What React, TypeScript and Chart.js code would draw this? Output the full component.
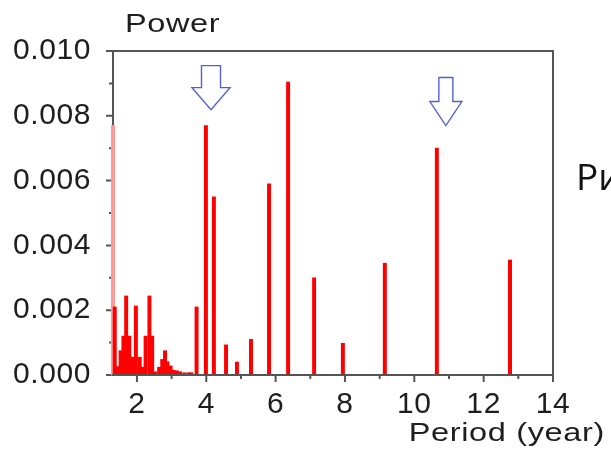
import { useEffect, useRef } from 'react';
import { Chart, registerables } from 'chart.js';

Chart.register(...registerables);

// Periods (years) of each spectral line and their power
const periods = [
  1.31, 1.36, 1.44, 1.53, 1.61, 1.69, 1.78, 1.86, 1.97, 2.08,
  2.16, 2.25, 2.36, 2.44, 2.52, 2.64, 2.73, 2.81, 2.88, 2.97,
  3.05, 3.15, 3.25, 3.37, 3.49, 3.57, 3.72, 3.99, 4.22, 4.57,
  4.885, 5.29, 5.81, 6.36, 7.11, 7.94, 9.15, 10.65, 12.76,
];
const powers = [
  0.0077, 0.0021, 0.00026, 0.00075, 0.0012, 0.00244, 0.0012, 0.00055, 0.00213, 0.00055,
  0.00024, 0.0012, 0.00244, 0.0012, 0.0001, 0.00024, 0.00048, 0.00075, 0.00041, 0.00028,
  0.00015, 0.00013, 0.0001, 0.00007, 0.00007, 0.00007, 0.0021, 0.0077, 0.0055, 0.00093,
  0.0004, 0.0011, 0.0059, 0.00904, 0.003, 0.00098, 0.00345, 0.007, 0.00355,
];

const xTicks = [2, 4, 6, 8, 10, 12, 14];
const xMinor = [3, 5, 7, 9, 11, 13];
const yTicks = [0, 0.002, 0.004, 0.006, 0.008, 0.01];
const yMinor = [0.001, 0.003, 0.005, 0.007, 0.009];
const yTickLabels = ['0.000', '0.002', '0.004', '0.006', '0.008', '0.010'];

// Down-arrow annotations (data coordinates)
const arrowX = [4.136, 10.91];
const arrowTop = [0.00955, 0.00918];
const arrowNeck = [0.00887, 0.00844];
const arrowTip = [0.00819, 0.0077];
const arrowHalfPx = [19, 16];
const arrowShaftHalfPx = [9.5, 7];

const yTitle = 'Power';
const xTitle = 'Period (year)';
const sideText = 'Рис';

const AXIS = '#555555';
const TEXT = '#1e1e1e';
const FONT = '"Liberation Sans", Arial, sans-serif';

function wideText(ctx: any, text: string, x: number, y: number, size: number, sx: number, align: 'left' | 'right') {
  ctx.save();
  ctx.font = `${size}px ${FONT}`;
  ctx.letterSpacing = '0.5px';
  ctx.textAlign = 'left';
  ctx.textBaseline = 'alphabetic';
  const w = ctx.measureText(text).width * sx;
  const left = align === 'left' ? x : x - w;
  ctx.translate(left, y);
  ctx.scale(sx, 1);
  ctx.fillText(text, 0, 0);
  ctx.restore();
}

const decor = {
  id: 'decor',
  beforeDraw(chart: any) {
    chart.ctx.letterSpacing = '0.6px';
  },
  beforeDatasetsDraw(chart: any) {
    const { ctx, chartArea: a, scales } = chart;
    const ys = scales.y;
    ctx.save();
    ctx.strokeStyle = AXIS;
    ctx.lineWidth = 2;
    ctx.beginPath();
    ctx.moveTo(a.left, a.bottom);
    ctx.lineTo(a.left, a.top);
    ctx.lineTo(a.right, a.top);
    ctx.lineTo(a.right, a.bottom);
    for (const v of yTicks) {
      const y = ys.getPixelForValue(v);
      ctx.moveTo(a.left - 7, y);
      ctx.lineTo(a.left, y);
    }
    for (const v of yMinor) {
      const y = ys.getPixelForValue(v);
      ctx.moveTo(a.left - 4, y);
      ctx.lineTo(a.left, y);
    }
    ctx.stroke();
    ctx.restore();
  },
  afterDatasetsDraw(chart: any) {
    const { ctx, chartArea: a, scales } = chart;
    const xs = scales.x;
    const ys = scales.y;
    ctx.save();
    ctx.strokeStyle = AXIS;
    ctx.lineWidth = 2;
    ctx.beginPath();
    ctx.moveTo(a.left - 1, a.bottom);
    ctx.lineTo(a.right + 1, a.bottom);
    for (const v of xTicks) {
      const x = xs.getPixelForValue(v);
      ctx.moveTo(x, a.bottom);
      ctx.lineTo(x, a.bottom + 7);
    }
    for (const v of xMinor) {
      const x = xs.getPixelForValue(v);
      ctx.moveTo(x, a.bottom);
      ctx.lineTo(x, a.bottom + 4);
    }
    ctx.stroke();

    // arrows
    ctx.strokeStyle = '#5260d4';
    ctx.fillStyle = '#ffffff';
    ctx.lineWidth = 1.4;
    ctx.lineJoin = 'miter';
    for (let i = 0; i < arrowX.length; i++) {
      const cx = xs.getPixelForValue(arrowX[i]);
      const top = ys.getPixelForValue(arrowTop[i]);
      const neck = ys.getPixelForValue(arrowNeck[i]);
      const tip = ys.getPixelForValue(arrowTip[i]);
      const h = arrowHalfPx[i];
      const s = arrowShaftHalfPx[i];
      ctx.beginPath();
      ctx.moveTo(cx - s, top);
      ctx.lineTo(cx + s, top);
      ctx.lineTo(cx + s, neck);
      ctx.lineTo(cx + h, neck);
      ctx.lineTo(cx, tip);
      ctx.lineTo(cx - h, neck);
      ctx.lineTo(cx - s, neck);
      ctx.closePath();
      ctx.fill();
      ctx.stroke();
    }

    // axis titles
    ctx.fillStyle = TEXT;
    wideText(ctx, yTitle, a.left + 12, a.top - 19, 26, 1.25, 'left');
    wideText(ctx, xTitle, a.right + 52, a.bottom + 66, 25, 1.3, 'right');

    // cut-off side caption
    ctx.letterSpacing = '0px';
    ctx.textAlign = 'left';
    ctx.textBaseline = 'alphabetic';
    ctx.fillStyle = '#111111';
    ctx.font = '37px "Open Sans", "Noto Sans", sans-serif';
    ctx.fillText(sideText, a.right + 23, a.top + 139);
    ctx.restore();
  },
};

export default function App() {
  const ref = useRef<HTMLCanvasElement>(null);
  useEffect(() => {
    if (!ref.current) return;
    const chart = new Chart(ref.current, {
      type: 'bar',
      data: {
        datasets: [
          {
            data: periods.map((p, i) => ({ x: p, y: powers[i] })) as any,
            backgroundColor: periods.map((_, i) => (i === 0 ? '#ff9a9a' : '#ff0000')),
            borderWidth: 0,
            barThickness: 3.3,
            clip: false as any,
          },
        ],
      },
      options: {
        animation: false,
        responsive: false,
        events: [],
        layout: { padding: { left: 0, top: 51, right: 58, bottom: 0 } },
        plugins: { legend: { display: false }, tooltip: { enabled: false } },
        scales: {
          x: {
            type: 'linear',
            min: 1.31,
            max: 14,
            offset: false,
            grid: { display: false },
            border: { display: false },
            afterBuildTicks: (s: any) => {
              s.ticks = xTicks.map((v) => ({ value: v }));
            },
            afterFit: (s: any) => {
              s.height = 77;
            },
            ticks: {
              autoSkip: false,
              maxRotation: 0,
              padding: 4,
              color: TEXT,
              font: { family: FONT, size: 30 },
              callback: (v: any) => String(v),
            },
          },
          y: {
            type: 'linear',
            min: 0,
            max: 0.01,
            grid: { display: false },
            border: { display: false },
            afterBuildTicks: (s: any) => {
              s.ticks = yTicks.map((v) => ({ value: v }));
            },
            afterFit: (s: any) => {
              s.width = 113;
            },
            ticks: {
              padding: 14,
              color: TEXT,
              font: { family: FONT, size: 30 },
              callback: (v: any) => yTickLabels[yTicks.findIndex((t) => Math.abs(t - v) < 1e-9)] ?? '',
            },
          },
        },
      },
      plugins: [decor],
    });
    return () => chart.destroy();
  }, []);
  return (
    <div style={{ position: 'fixed', left: 0, top: 0, width: 611, height: 452, background: '#fff' }}>
      <canvas ref={ref} width={611} height={452} style={{ display: 'block' }} />
    </div>
  );
}
